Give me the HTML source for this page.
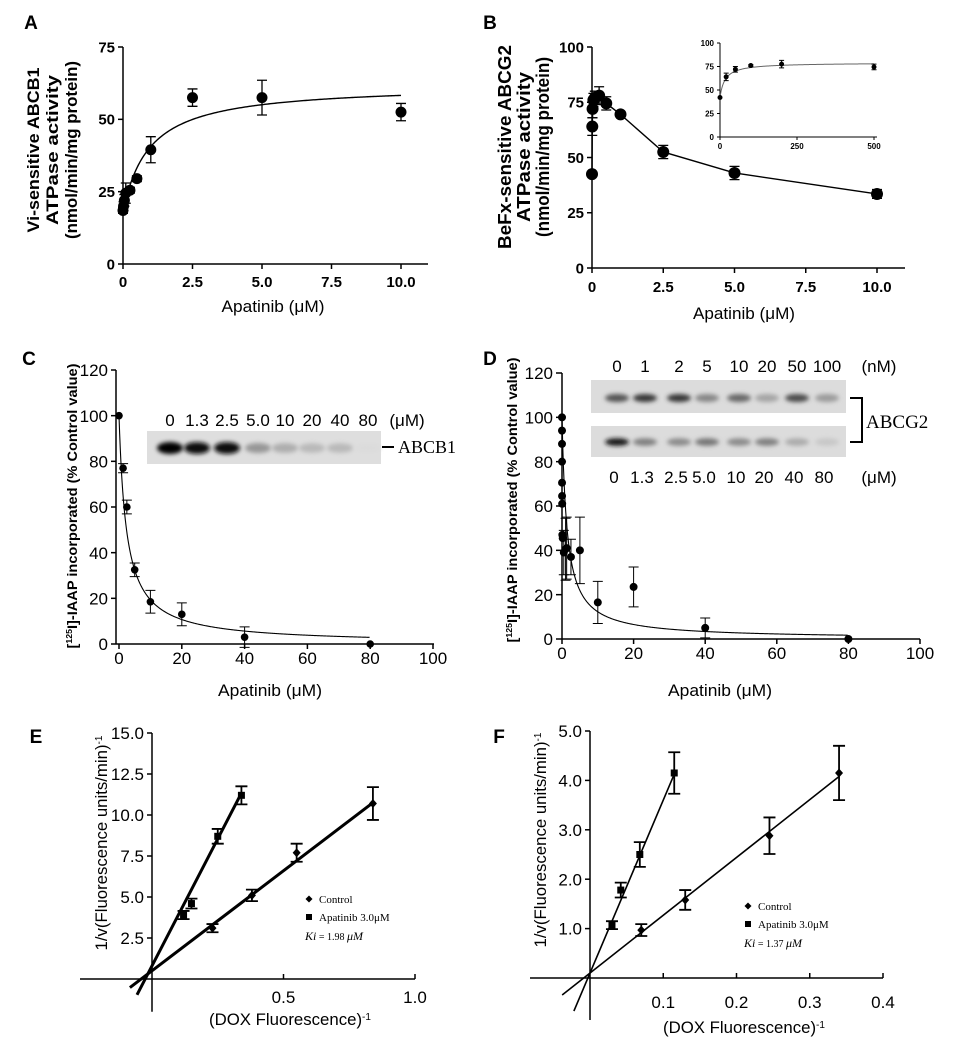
<!DOCTYPE html>
<html><head><meta charset="utf-8">
<style>
html,body{margin:0;padding:0;background:#fff;}
svg{display:block;font-family:"Liberation Sans",Arial,sans-serif;}
.serif{font-family:"Liberation Serif","Times New Roman",serif;}
</style></head>
<body>
<svg id="fig" width="954" height="1050" viewBox="0 0 954 1050" xmlns="http://www.w3.org/2000/svg">
<defs>
<filter id="blur" x="-50%" y="-100%" width="200%" height="300%"><feGaussianBlur stdDeviation="2.2"/></filter>
</defs>
</svg>
<script>
// ---------- DATA ----------
// Panel A
const aX=[0,0.02,0.05,0.1,0.25,0.5,1,2.5,5,10];
const aY=[18.5,20,22,24.5,25.5,29.5,39.5,57.5,57.5,52.5];
const aErr=[1,1.5,2,3.5,1,1,4.5,3,6,3];
const aFit=[18,44.1,0.95];
const aYTicks=[0,25,50,75];
const aXTicks=[0,2.5,5,7.5,10];
const aXLabels=['0','2.5','5.0','7.5','10.0'];
// Panel B
const bX=[0,0.01,0.02,0.05,0.1,0.25,0.5,1,2.5,5,10];
const bY=[42.5,64,72,76,77,78,74.5,69.5,52.5,43,33.5];
const bErr=[0,4,4,3,3,4,3,1,3,3,2];
const bYTicks=[0,25,50,75,100];
const bXTicks=[0,2.5,5,7.5,10];
const bXLabels=['0','2.5','5.0','7.5','10.0'];
const insX=[0,20,50,100,200,500];
const insY=[42,64,72,76,77.5,74.5];
const insErr=[0,4,3,1,4,3];
const insFit=[42,37,16];
const insYTicks=[0,25,50,75,100];
const insXTicks=[0,250,500];
// Panel C
const cX=[0,1.3,2.5,5,10,20,40,80];
const cY=[100,77,60,32.5,18.5,13,3,0];
const cErr=[0,2,3,3,5,5,4.5,0];
const cFit=[100,2.4];
const cYTicks=[0,20,40,60,80,100,120];
const cXTicks=[0,20,40,60,80,100];
const cLanes=['0','1.3','2.5','5.0','10','20','40','80'];
const cBand=[1,0.95,0.95,0.35,0.25,0.2,0.2,0.05];
// Panel D
const dX=[0,0.001,0.002,0.005,0.01,0.02,0.05,0.1,0.2,0.5,1,1.3,2.5,5,10,20,40,80];
const dY=[100,94,88,80,70.5,64.5,61,47,45.5,39,40.5,41,37,40,16.5,23.5,5,0];
const dErr=[0,0,0,0,0,0,0,0,0,10,14,14,8,15,9.5,9,4.5,0];
const dFit=[100,1.4];
const dYTicks=[0,20,40,60,80,100,120];
const dXTicks=[0,20,40,60,80,100];
const dLanesTop=['0','1','2','5','10','20','50','100'];
const dLanesBot=['0','1.3','2.5','5.0','10','20','40','80'];
const dBandTop=[0.7,0.85,0.85,0.45,0.6,0.3,0.75,0.35];
const dBandBot=[0.95,0.45,0.4,0.5,0.4,0.45,0.25,0.12];
// Panel E
const eCtrlX=[0.23,0.38,0.55,0.84];
const eCtrlY=[3.1,5.1,7.7,10.7];
const eCtrlErr=[0.25,0.35,0.55,1.0];
const eApX=[0.12,0.15,0.25,0.34];
const eApY=[3.9,4.6,8.7,11.2];
const eApErr=[0.25,0.3,0.45,0.55];
const eCtrlFit=[0.5,12.2,-0.084,0.84];
const eApFit=[0.8,31,-0.057,0.34];
const eYTicks=[2.5,5,7.5,10,12.5,15];
const eYLabels=['2.5','5.0','7.5','10.0','12.5','15.0'];
const eXTicks=[0.5,1.0];
const eXLabels=['0.5','1.0'];
// Panel F
const fCtrlX=[0.07,0.13,0.245,0.34];
const fCtrlY=[0.97,1.58,2.88,4.15];
const fCtrlErr=[0.12,0.2,0.37,0.55];
const fApX=[0.03,0.042,0.068,0.115];
const fApY=[1.07,1.78,2.5,4.15];
const fApErr=[0.08,0.15,0.25,0.42];
const fCtrlFit=[0.1,11.7,-0.038,0.34];
const fApFit=[0.1,35,-0.022,0.115];
const fYTicks=[1,2,3,4,5];
const fYLabels=['1.0','2.0','3.0','4.0','5.0'];
const fXTicks=[0.1,0.2,0.3,0.4];
const fXLabels=['0.1','0.2','0.3','0.4'];

// ---------- HELPERS ----------
const NS='http://www.w3.org/2000/svg';
const svg=document.getElementById('fig');
function mk(tag,attrs,parent){const e=document.createElementNS(NS,tag);for(const k in attrs)e.setAttribute(k,attrs[k]);(parent||svg).appendChild(e);return e;}
function lin(d0,d1,r0,r1){return v=>r0+(v-d0)*(r1-r0)/(d1-d0);}
function group(name){const g=mk('g',{});


return g;}
function txt(g,x,y,s,o,name){const t=mk('text',{x:x,y:y,'font-size':o.fs||16,'text-anchor':o.anchor||'middle','font-weight':o.bold?'bold':'normal',fill:'#000'},g);
if(o.cls)t.setAttribute('class',o.cls);
if(o.tl){t.setAttribute('textLength',o.tl);t.setAttribute('lengthAdjust','spacingAndGlyphs');}
t.textContent=s;


return t;}
function yAxis(g,x,sy,ymin,ymax,ticks,labels,o){
  const l=mk('line',{x1:x,y1:sy(ymin),x2:x,y2:sy(ymax),stroke:'#000','stroke-width':o.sw||1.5},g);
  
  
  ticks.forEach((t,i)=>{
    const tk=mk('line',{x1:x-(o.tl||5),y1:sy(t),x2:x,y2:sy(t),stroke:'#000','stroke-width':o.sw||1.5},g);
    
    
    txt(g,x-(o.tl||5)-(o.gap||3),sy(t)+o.fs*0.36,labels[i],{fs:o.fs,anchor:'end',bold:o.bold},'y-tick-label');
  });
}
function xAxis(g,y,sx,x0,x1,ticks,labels,o){
  const l=mk('line',{x1:x0,y1:y,x2:x1,y2:y,stroke:'#000','stroke-width':o.sw||1.5},g);
  
  
  ticks.forEach((t,i)=>{
    const d=o.up?-(o.tl||5):(o.tl||5);
    const tk=mk('line',{x1:sx(t),y1:y,x2:sx(t),y2:y+d,stroke:'#000','stroke-width':o.sw||1.5},g);
    
    
    txt(g,sx(t),o.ly,labels[i],{fs:o.fs,bold:o.bold},'x-tick-label');
  });
}
function errBar(g,x,y,e,sy,cap,sw){
  if(e<=0)return;
  const p=mk('path',{d:`M${x},${sy(y-e)}V${sy(y+e)}M${x-cap},${sy(y-e)}h${2*cap}M${x-cap},${sy(y+e)}h${2*cap}`,stroke:'#000','stroke-width':sw||1.3,fill:'none'},g);
  
  
}
function dot(g,x,y,r,name){const c=mk('circle',{cx:x,cy:y,r:r,fill:'#000'},g);


return c;}
function vtitle(g,x,y,lines,o){
  lines.forEach((s,i)=>{
    const t=mk('text',{x:0,y:0,'font-size':o.fs,'text-anchor':'middle','font-weight':o.bold?'bold':'normal',transform:`translate(${x+i*o.lh},${y}) rotate(-90)`},g);
    if(o.tls&&o.tls[i]){t.setAttribute('textLength',o.tls[i]);t.setAttribute('lengthAdjust','spacingAndGlyphs');}
    t.textContent=s;
    
    
  });
}
function supTitle(g,x,y,parts,o,rot){
  const t=mk('text',{x:0,y:0,'font-size':o.fs,'text-anchor':'middle','font-weight':o.bold?'bold':'normal',transform:rot?`translate(${x},${y}) rotate(-90)`:`translate(${x},${y})`},g);
  if(o.tl){t.setAttribute('textLength',o.tl);t.setAttribute('lengthAdjust','spacingAndGlyphs');}
  parts.forEach(p=>{const s=mk('tspan',{},t);if(p[1]){s.setAttribute('baseline-shift','super');s.setAttribute('font-size',o.fs*0.6);}s.textContent=p[0];});
  
  
  return t;
}
function pathFrom(pts){return 'M'+pts.map(p=>p[0].toFixed(2)+','+p[1].toFixed(2)).join('L');}

// ---------- PANEL A ----------
(function(){
  const g=group('panel-a');
  const sx=lin(0,10,123,401), sy=lin(0,75,264,47);
  txt(g,31,29,'A',{fs:19,bold:true},'panel-label-a');
  yAxis(g,123,sy,0,75,aYTicks,aYTicks.map(String),{fs:15,bold:true});
  xAxis(g,264,sx,123,428,aXTicks,aXLabels,{fs:15,bold:true,ly:287});
  const pts=[];for(let x=0.15;x<=10.001;x+=0.05)pts.push([sx(x),sy(aFit[0]+aFit[1]*x/(aFit[2]+x))]);
  const c=mk('path',{d:pathFrom(pts),fill:'none',stroke:'#000','stroke-width':1.4},g);
  
  
  aX.forEach((x,i)=>{errBar(g,sx(x),aY[i],aErr[i],sy,5);dot(g,sx(x),sy(aY[i]),5.5,'data-point');});
  vtitle(g,39,150,['Vi-sensitive  ABCB1','ATPase activity','(nmol/min/mg protein)'],{fs:17,bold:true,lh:19,tls:[165,150,178]});
  txt(g,273,312,'Apatinib (\u03bcM)',{fs:17,tl:103},'x-axis-title');
})();

// ---------- PANEL B ----------
(function(){
  const g=group('panel-b');
  const sx=lin(0,10,592,877), sy=lin(0,100,268,47);
  txt(g,490,29,'B',{fs:19,bold:true},'panel-label-b');
  yAxis(g,592,sy,0,100,bYTicks,bYTicks.map(String),{fs:15,bold:true});
  xAxis(g,268,sx,592,905,bXTicks,bXLabels,{fs:15,bold:true,ly:292});
  const ln=mk('path',{d:pathFrom(bX.map((x,i)=>[sx(x),sy(bY[i])])),fill:'none',stroke:'#000','stroke-width':1.4},g);
  
  
  bX.forEach((x,i)=>{errBar(g,sx(x),bY[i],bErr[i],sy,5);dot(g,sx(x),sy(bY[i]),6,'data-point');});
  vtitle(g,511,147,['BeFx-sensitive ABCG2','ATPase activity','(nmol/min/mg protein)'],{fs:18,bold:true,lh:19,tls:[204,150,180]});
  txt(g,744,319,'Apatinib (\u03bcM)',{fs:17,tl:102},'x-axis-title');
  // inset
  const ig=group('inset-chart');g.appendChild(ig);
  const ix=lin(0,500,720,874), iy=lin(0,100,137,43);
  yAxis(ig,720,iy,0,100,insYTicks,insYTicks.map(String),{fs:8,bold:true,tl:3,sw:1});
  xAxis(ig,137,ix,720,877,insXTicks,insXTicks.map(String),{fs:8,bold:true,ly:149,tl:3,sw:1});
  const ip=[];for(let x=0;x<=500;x+=2)ip.push([ix(x),iy(insFit[0]+insFit[1]*x/(insFit[2]+x))]);
  const ic=mk('path',{d:pathFrom(ip),fill:'none',stroke:'#666','stroke-width':1},ig);
  
  
  insX.forEach((x,i)=>{errBar(ig,ix(x),insY[i],insErr[i],iy,2.5,1);dot(ig,ix(x),iy(insY[i]),2.5,'inset-point');});
})();

// ---------- PANEL C ----------
(function(){
  const g=group('panel-c');
  const sx=lin(0,100,119,433), sy=lin(0,120,644,370);
  txt(g,29,365,'C',{fs:19,bold:true},'panel-label-c');
  yAxis(g,116,sy,0,120,cYTicks,cYTicks.map(String),{fs:17,tl:5});
  xAxis(g,644,sx,116,434,cXTicks,cXTicks.map(String),{fs:17,ly:664});
  const pts=[];for(let x=0;x<=80;x+=0.2)pts.push([sx(x),sy(cFit[0]/(1+x/cFit[1]))]);
  const c=mk('path',{d:pathFrom(pts),fill:'none',stroke:'#000','stroke-width':1.1},g);
  
  
  cX.forEach((x,i)=>{errBar(g,sx(x),cY[i],cErr[i],sy,5,1);dot(g,sx(x),sy(cY[i]),3.8,'data-point');});
  supTitle(g,77,506,[['['],['125',1],['I]-IAAP incorporated (% Control value)']],{fs:14,bold:true,tl:285},true);
  txt(g,270,696,'Apatinib (\u03bcM)',{fs:17,tl:104},'x-axis-title');
  // blot
  const bg=group('western-blot-abcb1');g.appendChild(bg);
  const r=mk('rect',{x:147,y:431,width:234,height:33,fill:'#dedede'},bg);
  
  
  const lx=[170,197,227,258,285,312,340,368];
  cLanes.forEach((s,i)=>{
    txt(bg,lx[i],426,s,{fs:17},'lane-label');
    const v=Math.round(230-225*cBand[i]);
    const e=mk('ellipse',{cx:lx[i],cy:448,rx:13,ry:4.5+cBand[i]*1.5,fill:`rgb(${v},${v},${v})`,filter:'url(#blur)'},bg);
    
    
  });
  txt(bg,407,426,'(\u03bcM)',{fs:17},'unit-label');
  const dash=mk('line',{x1:382,y1:447,x2:394,y2:447,stroke:'#000','stroke-width':2},bg);
  
  
  txt(bg,398,453,'ABCB1',{fs:18,anchor:'start',cls:'serif'},'protein-label');
})();

// ---------- PANEL D ----------
(function(){
  const g=group('panel-d');
  const sx=lin(0,100,562,920), sy=lin(0,120,639,373);
  txt(g,490,365,'D',{fs:19,bold:true},'panel-label-d');
  yAxis(g,562,sy,0,120,dYTicks,dYTicks.map(String),{fs:17,tl:6});
  xAxis(g,639,sx,562,920,dXTicks,dXTicks.map(String),{fs:17,ly:659});
  const pts=[];for(let x=0;x<=80;x+=0.2)pts.push([sx(x),sy(dFit[0]/(1+x/dFit[1]))]);
  const c=mk('path',{d:pathFrom(pts),fill:'none',stroke:'#000','stroke-width':1.1},g);
  
  
  dX.forEach((x,i)=>{errBar(g,sx(x),dY[i],dErr[i],sy,5,1);dot(g,sx(x),sy(dY[i]),4,'data-point');});
  supTitle(g,517,500,[['['],['125',1],['I]-IAAP incorporated (% Control value)']],{fs:14,bold:true,tl:285},true);
  txt(g,720,696,'Apatinib (\u03bcM)',{fs:17,tl:104},'x-axis-title');
  // blot
  const bg=group('western-blot-abcg2');g.appendChild(bg);
  const r1=mk('rect',{x:591,y:380,width:255,height:33,fill:'#dcdcdc'},bg);
  
  
  const r2=mk('rect',{x:591,y:426,width:255,height:31,fill:'#dcdcdc'},bg);
  
  
  const lx=[617,645,679,707,739,767,797,827];
  dLanesTop.forEach((s,i)=>{
    txt(bg,lx[i],372,s,{fs:17},'lane-label-nm');
    const v=Math.round(225-200*dBandTop[i]);
    const e=mk('ellipse',{cx:lx[i],cy:398,rx:12,ry:4,fill:`rgb(${v},${v},${v})`,filter:'url(#blur)'},bg);
    
    
  });
  dLanesBot.forEach((s,i)=>{
    txt(bg,lx[i]-3,483,s,{fs:17},'lane-label-um');
    const v=Math.round(225-215*dBandBot[i]);
    const e=mk('ellipse',{cx:lx[i],cy:442,rx:12,ry:3.8,fill:`rgb(${v},${v},${v})`,filter:'url(#blur)'},bg);
    
    
  });
  txt(bg,879,372,'(nM)',{fs:17},'unit-label');
  txt(bg,879,483,'(\u03bcM)',{fs:17},'unit-label');
  const br=mk('path',{d:'M850,398H862V442H850',fill:'none',stroke:'#000','stroke-width':2},bg);
  
  
  txt(bg,866,428,'ABCG2',{fs:19,anchor:'start',cls:'serif'},'protein-label');
})();

// ---------- LINEWEAVER-BURK PANELS ----------
function lwPanel(o){
  const g=group(o.name);
  const sx=o.sx, sy=o.sy;
  txt(g,o.lx,o.ly,o.letter,{fs:19,bold:true},'panel-label');
  yAxis(g,sx(0),sy,o.yLow,o.yTop,o.yTicks,o.yLabels,{fs:17,tl:5});
  xAxis(g,sy(0),sx,o.xLeft,sx(o.xMax),o.xTicks,o.xLabels,{fs:17,up:true,ly:o.xly});
  [[o.ctrlFit,'control-fit-line'],[o.apFit,'apatinib-fit-line']].forEach(([f,n])=>{
    const l=mk('line',{x1:sx(f[2]),y1:sy(f[0]+f[1]*f[2]),x2:sx(f[3]),y2:sy(f[0]+f[1]*f[3]),stroke:'#000','stroke-width':o.lw},g);
    
    
  });
  o.ctrlX.forEach((x,i)=>{
    errBar(g,sx(x),o.ctrlY[i],o.ctrlErr[i],sy,6,1.8);
    const X=sx(x),Y=sy(o.ctrlY[i]);
    const d=mk('path',{d:`M${X},${Y-4.5}L${X+4},${Y}L${X},${Y+4.5}L${X-4},${Y}Z`,fill:'#000'},g);
    
    
  });
  o.apX.forEach((x,i)=>{
    errBar(g,sx(x),o.apY[i],o.apErr[i],sy,6,1.8);
    const s=mk('rect',{x:sx(x)-3.5,y:sy(o.apY[i])-3.5,width:7,height:7,fill:'#000'},g);
    
    
  });
  supTitle(g,o.ytx,o.yty,[['1/v(Fluorescence units/min)'],['-1',1]],{fs:17,tl:215},true);
  supTitle(g,o.xtx,o.xty,[['(DOX Fluorescence)'],['-1',1]],{fs:17,tl:162},false);
  // legend
  const lg=group('legend');g.appendChild(lg);
  const X=o.legX,Y=o.legY;
  const dm=mk('path',{d:`M${X},${Y-3.5}L${X+3.5},${Y}L${X},${Y+3.5}L${X-3.5},${Y}Z`,fill:'#000'},lg);
  
  
  txt(lg,X+10,Y+4,'Control',{fs:11,anchor:'start',cls:'serif'},'legend-entry-control');
  const sq=mk('rect',{x:X-3,y:Y+15,width:6,height:6,fill:'#000'},lg);
  
  
  txt(lg,X+10,Y+22,'Apatinib  3.0\u03bcM',{fs:11,anchor:'start',cls:'serif'},'legend-entry-apatinib');
  const k=mk('text',{x:X-4,y:Y+41,'font-size':12,class:'serif'},lg);
  
  
  const k1=mk('tspan',{'font-style':'italic'},k);k1.textContent='Ki';
  const k2=mk('tspan',{'font-size':10},k);k2.textContent=' = '+o.ki+' ';
  const k3=mk('tspan',{'font-style':'italic'},k);k3.textContent='\u03bcM';
}
lwPanel({name:'panel-e',letter:'E',lx:36,ly:743,sx:lin(0,1,152,415),sy:lin(0,15,979,733),yLow:-2.0,yTop:15,
  yTicks:eYTicks,yLabels:eYLabels,xTicks:eXTicks,xLabels:eXLabels,xLeft:80,xMax:1,xly:1003,
  ctrlX:eCtrlX,ctrlY:eCtrlY,ctrlErr:eCtrlErr,apX:eApX,apY:eApY,apErr:eApErr,ctrlFit:eCtrlFit,apFit:eApFit,lw:3,
  ytx:107,yty:843,xtx:290,xty:1025,legX:309,legY:899,ki:'1.98'});
lwPanel({name:'panel-f',letter:'F',lx:499,ly:743,sx:lin(0,0.4,590,883),sy:lin(0,5,978,731),yLow:-0.85,yTop:5.0,
  yTicks:fYTicks,yLabels:fYLabels,xTicks:fXTicks,xLabels:fXLabels,xLeft:530,xMax:0.4,xly:1008,
  ctrlX:fCtrlX,ctrlY:fCtrlY,ctrlErr:fCtrlErr,apX:fApX,apY:fApY,apErr:fApErr,ctrlFit:fCtrlFit,apFit:fApFit,lw:1.6,
  ytx:546,yty:840,xtx:744,xty:1033,legX:748,legY:906,ki:'1.37'});
</script>
</body></html>
